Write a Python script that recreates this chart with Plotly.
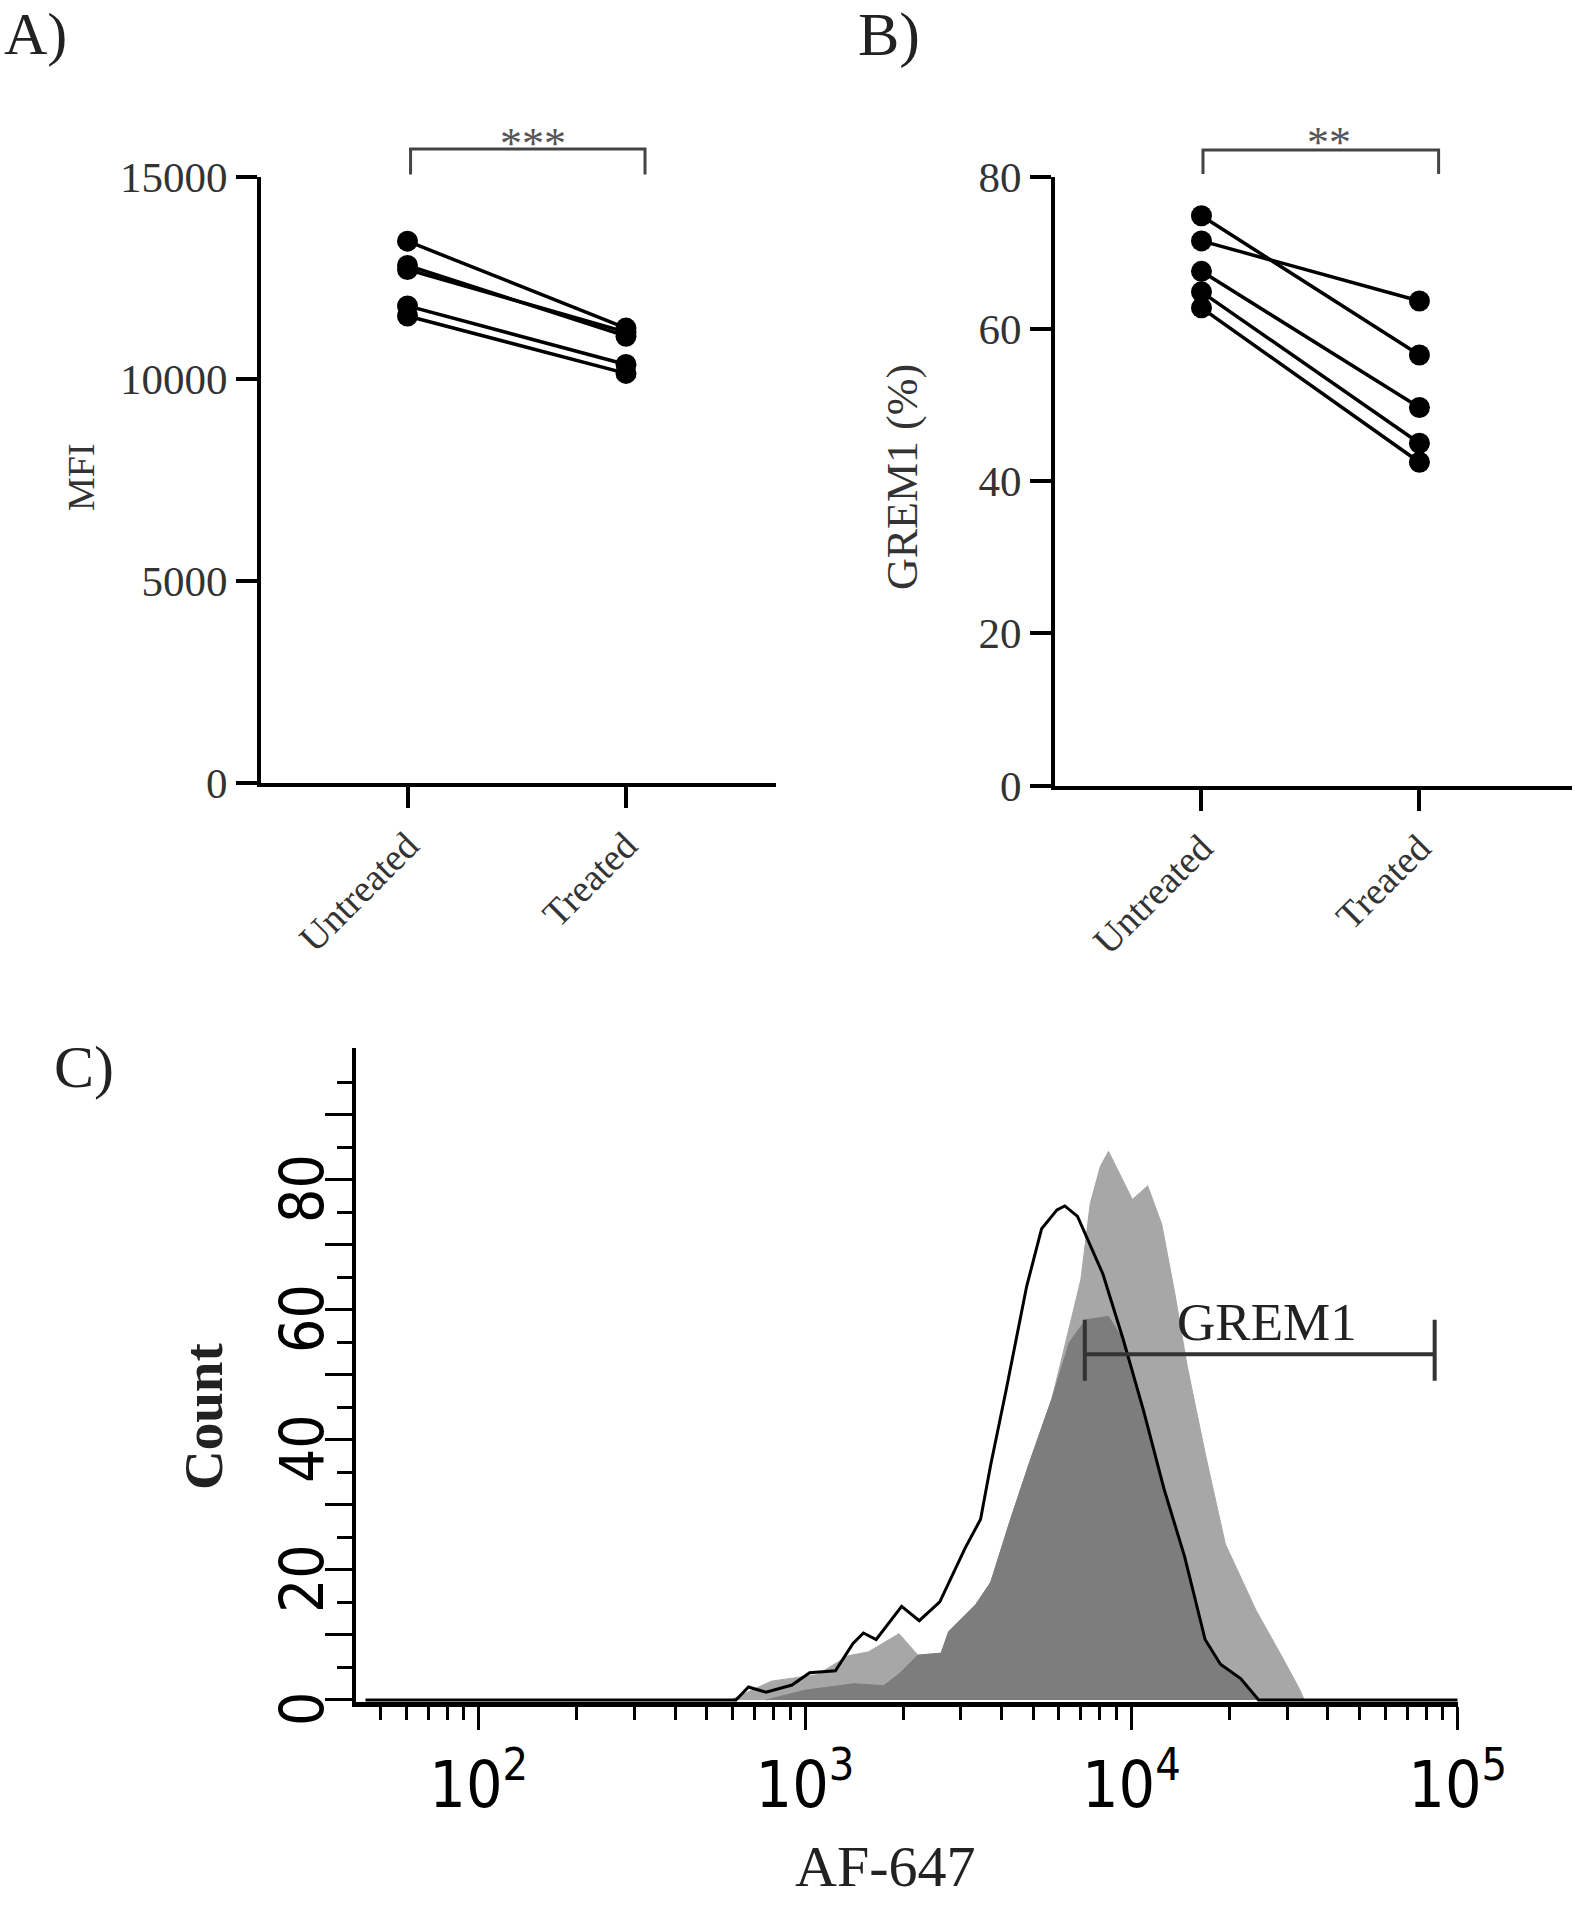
import plotly.graph_objects as go

W, H = 1578, 1906

# ---------------- data ----------------
categories = ["Untreated", "Treated"]

# Panel A: MFI (paired, 5 samples)
mfi_untreated = [13400, 12800, 12700, 11800, 11550]
mfi_treated = [11250, 11050, 11150, 10350, 10130]
mfi_ticks = [0, 5000, 10000, 15000]

# Panel B: GREM1 (%) (paired, 5 samples)
grem_untreated = [74.9, 71.6, 67.6, 64.9, 62.8]
grem_treated = [56.6, 63.7, 49.7, 45.0, 42.5]
grem_ticks = [0, 20, 40, 60, 80]

sig_a = "***"
sig_b = "**"

# Panel C: histograms (AF-647 intensity vs count)
line_x = [45, 614, 671, 759, 912, 1033, 1239, 1403, 1510, 1652, 1977, 2239, 2588, 3097, 3451,
          3707, 4130, 4775, 5309, 5916, 6252, 6839, 8185, 9462, 10914, 12618, 14555, 16827,
          18750, 21627, 24547, 100000]
line_count = [0, 0, 2.0, 1.2, 2.3, 4.2, 4.5, 8.7, 10.3, 9.3, 14.4, 12.2, 15.1, 23.4, 27.8,
              36.2, 47.6, 63.6, 72.5, 75.4, 76.0, 74.4, 65.5, 55.3, 44.4, 32.3, 22.1, 9.3,
              5.5, 3.3, 0, 0]

light_x = [592, 789, 1091, 1355, 1563, 1941, 2218, 2612, 2754, 3327, 3707, 4246, 4864, 5715,
           6998, 7482, 8035, 8511, 10069, 11220, 12388, 13552, 14825, 16827, 19409, 24099,
           28840, 32734, 33884]
light_count = [0, 2.9, 3.9, 6.8, 7.4, 10.2, 6.9, 7.2, 10.5, 14.6, 18.1, 27.5, 36.4, 46.4,
               64.6, 76.4, 82.1, 84.4, 77.0, 79.1, 73.2, 62.9, 51.4, 38.0, 24.0, 13.8,
               6.8, 1.7, 0]

dark_x = [760, 1000, 1413, 1742, 1941, 2218, 2612, 2754, 3327, 3707, 4246, 4864, 5715, 6457,
          7244, 8511, 9462, 10914, 12618, 14555, 16827, 18750, 21627, 24547]
dark_count = [0, 1.5, 2.5, 2.2, 4.0, 6.9, 7.2, 10.5, 14.6, 18.1, 27.5, 36.4, 46.4, 55.0,
              58.5, 59.0, 55.3, 44.4, 32.3, 22.1, 9.3, 5.5, 3.3, 0]

gate_x = [7200, 85000]
gate_level = 53.2
gate_cap = [49.1, 58.5]
gate_label = "GREM1"

c_major_ticks = [100, 1000, 10000, 100000]
c_major_text = ["10<sup>2</sup>", "10<sup>3</sup>", "10<sup>4</sup>", "10<sup>5</sup>"]
c_minor_ticks = [m * d for d in (10, 100, 1000, 10000) for m in range(2, 10) if m * d >= 45]
c_y_ticks = [0, 10, 20, 30, 40, 50, 60, 70, 80, 90]
c_y_labels = [0, 20, 40, 60, 80]
c_y_minor = [5, 15, 25, 35, 45, 55, 65, 75, 85, 95]

# ---------------- layout helpers ----------------
def px_x(p):
    return p / W


def px_y(p):
    return 1 - p / H


SERIF = "Liberation Serif"
NARROW = "Liberation Sans Narrow, DejaVu Sans Condensed, Liberation Sans, sans-serif"
TXT = "#333333"

A_xr = [-0.6705, 1.6865]
A_yr = [0, 15000]
B_xr = [-0.672, 1.70]
B_yr = [0, 80]
C_xr = [1.624, 5.0]
C_yr = [-0.31, 100.3]

fig = go.Figure()

# Panel A lines
for u, t in zip(mfi_untreated, mfi_treated):
    fig.add_trace(go.Scatter(x=[0, 1], y=[u, t], mode="lines+markers",
                             line=dict(color="black", width=3.5),
                             marker=dict(color="black", size=21),
                             xaxis="x", yaxis="y", showlegend=False, cliponaxis=False))
# Panel B lines
for u, t in zip(grem_untreated, grem_treated):
    fig.add_trace(go.Scatter(x=[0, 1], y=[u, t], mode="lines+markers",
                             line=dict(color="black", width=3.5),
                             marker=dict(color="black", size=21),
                             xaxis="x2", yaxis="y2", showlegend=False, cliponaxis=False))

# Panel C histograms
fig.add_trace(go.Scatter(x=light_x, y=light_count, mode="lines", fill="tozeroy",
                         line=dict(color="#a7a7a7", width=1), fillcolor="#a7a7a7",
                         xaxis="x3", yaxis="y3", showlegend=False))
fig.add_trace(go.Scatter(x=dark_x, y=dark_count, mode="lines", fill="tozeroy",
                         line=dict(color="#7d7d7d", width=1), fillcolor="#7d7d7d",
                         xaxis="x3", yaxis="y3", showlegend=False))
fig.add_trace(go.Scatter(x=line_x, y=line_count, mode="lines",
                         line=dict(color="black", width=3),
                         xaxis="x3", yaxis="y3", showlegend=False))
# gate bar
gx = [gate_x[0], gate_x[1], None, gate_x[0], gate_x[0], None, gate_x[1], gate_x[1]]
gy = [gate_level, gate_level, None, gate_cap[0], gate_cap[1], None, gate_cap[0], gate_cap[1]]
fig.add_trace(go.Scatter(x=gx, y=gy, mode="lines", line=dict(color="#333333", width=4),
                         xaxis="x3", yaxis="y3", showlegend=False))

axis_common = dict(showgrid=False, zeroline=False, showline=True, linecolor="black",
                   linewidth=4, ticks="outside", ticklen=21, tickwidth=4, tickcolor="black",
                   automargin=False)

fig.update_layout(
    width=W, height=H, margin=dict(l=0, r=0, t=0, b=0, pad=0, autoexpand=False),
    paper_bgcolor="white", plot_bgcolor="rgba(0,0,0,0)",
    xaxis=dict(domain=[px_x(261), px_x(776)], range=A_xr, anchor="y",
               tickvals=[0, 1], ticktext=categories, tickangle=-45,
               tickfont=dict(family=SERIF, size=38, color=TXT), **axis_common),
    yaxis=dict(domain=[px_y(783), px_y(176.5)], range=A_yr, anchor="x",
               tickvals=mfi_ticks, ticktext=[str(v) for v in mfi_ticks],
               tickfont=dict(family=SERIF, size=43, color=TXT), **axis_common),
    xaxis2=dict(domain=[px_x(1055), px_x(1572)], range=B_xr, anchor="y2",
                tickvals=[0, 1], ticktext=categories, tickangle=-45,
                tickfont=dict(family=SERIF, size=38, color=TXT), **axis_common),
    yaxis2=dict(domain=[px_y(785.5), px_y(177)], range=B_yr, anchor="x2",
                tickvals=grem_ticks, ticktext=[str(v) for v in grem_ticks],
                tickfont=dict(family=SERIF, size=43, color=TXT), **axis_common),
    xaxis3=dict(domain=[px_x(356), px_x(1457.7)], type="log", range=C_xr, anchor="y3",
                showgrid=False, zeroline=False, showline=True, linecolor="black", linewidth=5,
                ticks="outside", ticklen=23, tickwidth=3, tickcolor="black", automargin=False,
                tickvals=c_major_ticks, ticktext=c_major_text,
                tickfont=dict(family=NARROW, size=64, color="black"),
                minor=dict(tickmode="array", tickvals=c_minor_ticks, ticks="outside",
                           ticklen=13, tickwidth=3, tickcolor="black", showgrid=False)),
    yaxis3=dict(domain=[px_y(1702), px_y(1048)], range=C_yr, anchor="x3",
                showgrid=False, zeroline=False, showline=True, linecolor="black", linewidth=4,
                ticks="outside", ticklen=27, tickwidth=3, tickcolor="black", automargin=False,
                tickvals=c_y_ticks, showticklabels=False,
                minor=dict(tickmode="array", tickvals=c_y_minor, ticks="outside",
                           ticklen=15, tickwidth=3, tickcolor="black", showgrid=False)),
)

# C y tick labels (rotated, read bottom-to-top), placed on the y3 scale
for v in c_y_labels:
    fig.add_annotation(x=(302 - 356) / (1457.7 - 356), y=v, xref="x3 domain", yref="y3",
                       text=str(v), showarrow=False, textangle=-90, yshift=-9,
                       xanchor="center", yanchor="middle",
                       font=dict(family=NARROW, size=60, color="black"))


def dom(v, r):
    return (v - r[0]) / (r[1] - r[0])


# significance brackets (domain-referenced so they may sit above the plot)
def bracket(xref, yref, xr, yr, x0, x1, ytop, ybot, ystar, xstar, label):
    fig.add_shape(type="path", xref=xref, yref=yref,
                  path=f"M {dom(x0, xr)},{dom(ybot, yr)} L {dom(x0, xr)},{dom(ytop, yr)} "
                       f"L {dom(x1, xr)},{dom(ytop, yr)} L {dom(x1, xr)},{dom(ybot, yr)}",
                  line=dict(color="#444444", width=3))
    fig.add_annotation(xref=xref, yref=yref, x=dom(xstar, xr), y=dom(ystar, yr),
                       text=label, showarrow=False, xanchor="center", yanchor="middle",
                       font=dict(family=SERIF, size=44, color="#555555"))


bracket("x domain", "y domain", A_xr, A_yr, 0.014, 1.087, 15680, 15047, 15818, 0.574, sig_a)
bracket("x2 domain", "y2 domain", B_xr, B_yr, 0.007, 1.088, 83.55, 80.4, 84.6, 0.585, sig_b)

# gate label
fig.add_annotation(x=4.417, y=58.2, xref="x3", yref="y3", text=gate_label, showarrow=False,
                   xanchor="center", yanchor="middle",
                   font=dict(family=SERIF, size=53, color="#222222"))

# panel letters and axis titles
def txt(x, y, s, size, angle=0, xanchor="center", family=SERIF, color="#222222"):
    fig.add_annotation(x=px_x(x), y=px_y(y), xref="paper", yref="paper", text=s,
                       showarrow=False, textangle=angle, xanchor=xanchor, yanchor="middle",
                       font=dict(family=family, size=size, color=color))


txt(2, 34, "A)", 60, xanchor="left")
txt(856, 34, "B)", 62, xanchor="left")
txt(52, 1067, "C)", 60, xanchor="left")
txt(81, 477, "MFI", 38, angle=-90, color=TXT)
txt(903, 477, "GREM1 (%)", 44, angle=-90, color=TXT)
txt(203, 1417, "<b>Count</b>", 55, angle=-90)
txt(885, 1866, "AF-647", 58)

# remove the default page margin so the page is exactly the figure
post = ("document.documentElement.style.margin='0';"
        "document.body.style.margin='0';document.body.style.padding='0';"
        "document.body.style.overflow='hidden';")

fig.write_html("out.html", post_script=post, config={"displayModeBar": False})
